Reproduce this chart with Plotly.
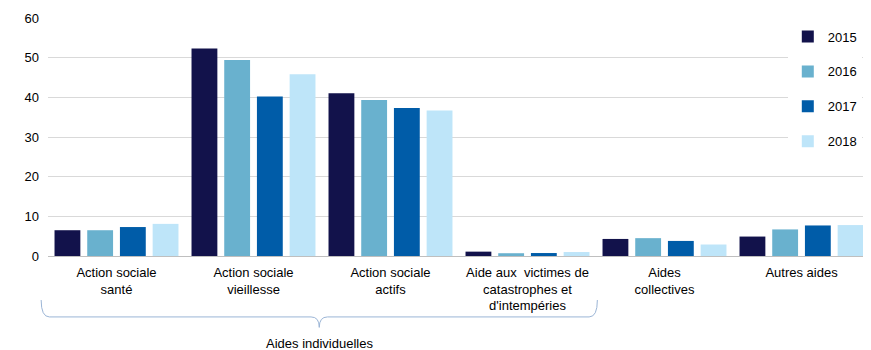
import plotly.graph_objects as go

# Catégories et valeurs
categories = [
    "Action sociale<br>santé",
    "Action sociale<br>vieillesse",
    "Action sociale<br>actifs",
    "Aide aux \u00a0victimes de<br>catastrophes et<br>d'intempéries",
    "Aides<br>collectives",
    "Autres aides",
]
years = ["2015", "2016", "2017", "2018"]
v2015 = [6.5, 52.3, 41.0, 1.1, 4.3, 4.9]
v2016 = [6.5, 49.4, 39.3, 0.7, 4.5, 6.7]
v2017 = [7.3, 40.2, 37.3, 0.75, 3.8, 7.7]
v2018 = [8.1, 45.8, 36.7, 1.0, 2.9, 7.8]
series = [v2015, v2016, v2017, v2018]
colors = ["#12124B", "#69B1CE", "#005CA8", "#BEE5F9"]

idx = list(range(len(categories)))
n = len(categories)

fig = go.Figure()
for year, vals, col in zip(years, series, colors):
    fig.add_trace(go.Bar(
        x=idx, y=vals, name=year,
        marker=dict(color=col, line=dict(width=0)),
        legendgroup=year,
    ))


def to_paper(i):
    # position d'une catégorie (index) en coordonnées papier
    return (i + 0.5) / n


# accolade "Aides individuelles" sous les 4 premières catégories
x0, x1 = to_paper(idx[0] - 0.55), to_paper(idx[3] + 0.51)
xm = (x0 + x1) / 2
dx = 0.01
yt, yl, yb = -0.185, -0.256, -0.30
brace = (f"M {x0},{yt} Q {x0},{yl} {x0 + dx},{yl} "
         f"L {xm - dx},{yl} Q {xm},{yl} {xm},{yb} "
         f"Q {xm},{yl} {xm + dx},{yl} "
         f"L {x1 - dx},{yl} Q {x1},{yl} {x1},{yt}")
fig.add_shape(type="path", path=brace, xref="paper", yref="paper",
              line=dict(color="#9BB5D6", width=1))
fig.add_annotation(x=xm, y=-0.366, xref="paper", yref="paper",
                   xanchor="center", yanchor="middle",
                   text="Aides individuelles", showarrow=False,
                   font=dict(size=13, color="#000000"))

# la page ajoute une marge de 8 px : la figure est réduite d'autant
fig.update_layout(
    width=863, height=342,
    margin=dict(l=40, r=1, t=10, b=94, autoexpand=False),
    paper_bgcolor="white", plot_bgcolor="white",
    font=dict(family="Liberation Sans, Arial, sans-serif", size=13, color="#000000"),
    barmode="group", bargap=0.045, bargroupgap=0.21,
    showlegend=True,
    legend=dict(x=0.9, y=0.985, xanchor="left", yanchor="top",
                bgcolor="white", tracegroupgap=15, itemwidth=30,
                font=dict(size=13)),
    xaxis=dict(tickmode="array", tickvals=idx, ticktext=categories,
               range=[-0.5, n - 0.5], automargin=False,
               showgrid=False, showline=True, linecolor="#BFBFBF",
               ticks="", tickfont=dict(size=13), ticklabelstandoff=4),
    yaxis=dict(range=[0, 60], dtick=10, showgrid=True, gridcolor="#D9D9D9",
               zeroline=False, ticks="", tickfont=dict(size=13),
               ticklabelstandoff=8, automargin=False),
)

fig.write_html("out.html")
